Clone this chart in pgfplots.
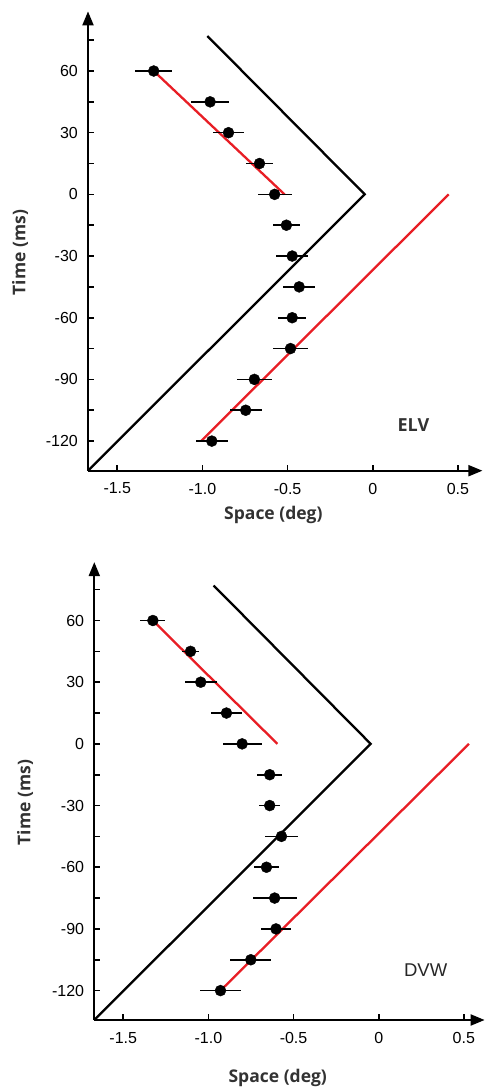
\documentclass[border=0pt]{standalone}
\usepackage{fontspec}
\setmainfont{Liberation Sans}
\newfontfamily\labfont{Open Sans}
\usepackage{pgfplots}
\pgfplotsset{compat=1.18}
\usetikzlibrary{arrows.meta}
\definecolor{myred}{RGB}{232,30,37}
\definecolor{labgray}{RGB}{50,50,50}

\pgfplotstableread{
x y ex
-1.286 60 0.11
-0.955 45 0.11
-0.847 30 0.093
-0.665 15 0.079
-0.576 0 0.10
-0.507 -15 0.078
-0.473 -30 0.094
-0.432 -45 0.095
-0.473 -60 0.083
-0.483 -75 0.10
-0.695 -90 0.103
-0.746 -105 0.095
-0.945 -120 0.093
}\elv

\pgfplotstableread{
x y ex
-1.326 60 0.074
-1.105 45 0.05
-1.045 30 0.095
-0.894 15 0.093
-0.802 0 0.115
-0.640 -15 0.072
-0.640 -30 0.06
-0.571 -45 0.096
-0.659 -60 0.076
-0.611 -75 0.13
-0.603 -90 0.088
-0.751 -105 0.12
-0.929 -120 0.12
}\dvw

\pgfplotsset{
  myaxis/.style={
    axis lines=left,
    axis line style={line width=2pt, -{Triangle[length=14pt,width=11pt]}},
    x=170.3pt, y=2.056pt,
    xtick={-1.5,-1,-0.5,0,0.5}, xticklabels={-1.5,-1.0,-0.5,0,0.5},
    ytick={-120,-90,...,60}, yticklabels={-120,-90,-60,-30,0,30,60},
    minor ytick={-105,-75,...,75},
    tick style={black, line width=1.6pt},
    major tick length=6pt, minor tick length=6pt,
    tick align=inside,
    ticklabel style={font=\fontsize{16}{18}\selectfont},
    yticklabel style={anchor=east, inner sep=0pt, xshift=-10pt},
    xticklabel style={anchor=north, inner sep=0pt, yshift=-12pt},
    label style={font=\labfont\bfseries\fontsize{17.5}{20}\selectfont, text=labgray},
    xlabel={Space (deg)}, ylabel={Time (ms)},
    clip=false,
  },
  dots/.style={only marks, mark=*, mark size=5.5pt, black,
    error bars/.cd, x dir=both, x explicit, error mark=none,
    error bar style={line width=1.6pt, black}},
}

\begin{document}
\begin{tikzpicture}[x=1pt,y=1pt]
\useasboundingbox (0,0) rectangle (485,1088);
% top panel
\begin{axis}[myaxis, at={(88pt,617.3pt)}, anchor=south west,
  xmin=-1.672, xmax=0.644, ymin=-134.4, ymax=89,
  xlabel style={at={(axis description cs:0.47,0)}, anchor=center, yshift=-44.3pt},
  ylabel style={at={(axis description cs:0,0.475)}, anchor=center, yshift=68pt}]
\addplot[myred, line width=2.3pt] coordinates {(-1.286,60) (-0.518,0)};
\addplot[myred, line width=2.3pt] coordinates {(-1.008,-120) (0.446,0)};
\addplot[black, line width=2.3pt] coordinates {(-0.971,77) (-0.047,0) (-1.672,-134.4)};
\addplot[dots] table[x=x, y=y, x error=ex] {\elv};
\node[font=\labfont\bfseries\fontsize{18}{20}\selectfont, text=labgray] at (axis cs:0.239,-112) {ELV};
\end{axis}
% bottom panel
\begin{axis}[myaxis, at={(94.3pt,68pt)}, anchor=south west,
  xmin=-1.670, xmax=0.622, ymin=-134.3, ymax=88.4,
  xlabel style={at={(axis description cs:0.47,0)}, anchor=center, yshift=-58pt},
  ylabel style={at={(axis description cs:0,0.475)}, anchor=center, yshift=69.3pt}]
\addplot[myred, line width=2.3pt] coordinates {(-1.326,60) (-0.595,0)};
\addplot[myred, line width=2.3pt] coordinates {(-0.929,-120) (0.530,0)};
\addplot[black, line width=2.3pt] coordinates {(-0.969,77) (-0.047,0) (-1.670,-134.3)};
\addplot[dots] table[x=x, y=y, x error=ex] {\dvw};
\node[font=\fontsize{18.5}{20}\selectfont, text=black!85] at (axis cs:0.276,-110) {DVW};
\end{axis}
\end{tikzpicture}
\end{document}
